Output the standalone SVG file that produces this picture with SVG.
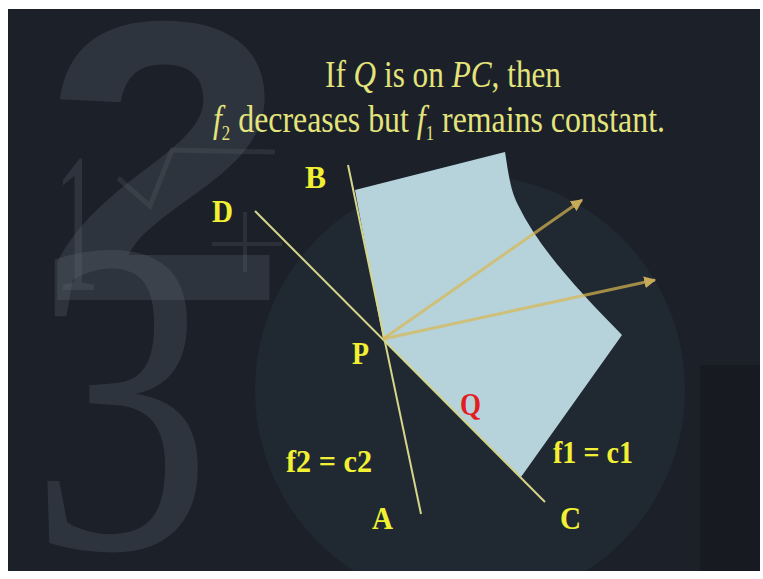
<svg xmlns="http://www.w3.org/2000/svg" width="763" height="579" viewBox="0 0 763 579">
<defs>
<style>
.deco{font-family:"Liberation Serif",serif;fill:#5a646c;fill-opacity:0.3}
.deco-sans{font-family:"Liberation Sans",sans-serif;font-weight:bold;fill:#5a646c;fill-opacity:0.3}
.title{font-family:"Liberation Serif",serif;font-size:38px;fill:#e4e47c}
.it{font-style:italic}
.sub{font-size:20px}
.lbl{font-family:"Liberation Serif",serif;font-weight:bold;font-size:32px;fill:#f2f032}
.q{font-family:"Liberation Serif",serif;font-weight:bold;font-size:32px;fill:#e21e1e}
.ln{stroke:#d6d68a;stroke-width:2;fill:none}
.arr{stroke:#d8b850;stroke-opacity:0.7;stroke-width:3;fill:none;marker-end:url(#ah)}
</style>
<marker id="ah" viewBox="0 0 10 10" refX="9" refY="5" markerWidth="4" markerHeight="4" orient="auto" markerUnits="strokeWidth">
<path d="M0,0 L10,5 L0,10 z" fill="#c8aa58"/>
</marker>
<clipPath id="slide"><rect x="8" y="9" width="752" height="562"/></clipPath>
</defs>
<rect width="763" height="579" fill="#ffffff"/>
<g id="background" clip-path="url(#slide)">
<rect x="8" y="9" width="752" height="562" fill="#1c2029"/>
<circle cx="470" cy="390" r="215" fill="#25343d" fill-opacity="0.45"/>
<rect x="700" y="365" width="70" height="215" fill="#141519" fill-opacity="0.45"/>
<text class="deco-sans" x="42" y="300" font-size="400" textLength="245" lengthAdjust="spacingAndGlyphs">2</text>
<text class="deco" x="30" y="548" font-size="450" textLength="182" lengthAdjust="spacingAndGlyphs">3</text>
<text class="deco" x="55" y="290" font-size="200" textLength="44" lengthAdjust="spacingAndGlyphs">1</text>
<polyline points="118,178 150,206 172,150 275,152" fill="none" stroke="#5a646c" stroke-opacity="0.25" stroke-width="5"/>
<path d="M245,212 V272 M212,244 H282" stroke="#5a646c" stroke-opacity="0.25" stroke-width="4"/>
</g>
<g id="title">
<text class="title" x="325" y="87" textLength="236" lengthAdjust="spacingAndGlyphs">If <tspan class="it">Q</tspan> is on <tspan class="it">PC</tspan>, then</text>
<text class="title" x="213" y="132" textLength="452" lengthAdjust="spacingAndGlyphs"><tspan class="it">f</tspan><tspan class="sub" dy="8">2</tspan><tspan dy="-8"> decreases but </tspan><tspan class="it">f</tspan><tspan class="sub" dy="8">1</tspan><tspan dy="-8"> remains constant.</tspan></text>
</g>
<g id="region">
<path d="M355,190 L505,152 C508,170 510,190 518,205 C540,250 580,292 622,335 L521,477 L383,339 Z" fill="#b6d3dc"/>
</g>
<g id="connectors">
<line id="line-BA" class="ln" x1="348" y1="165" x2="421" y2="514"/>
<line id="line-DC" class="ln" x1="255" y1="211" x2="545" y2="502"/>
<line id="arrow-1" class="arr" x1="383" y1="339" x2="582" y2="200"/>
<line id="arrow-2" class="arr" x1="383" y1="339" x2="655" y2="280"/>
</g>
<g id="label-B"><text class="lbl" x="305" y="188" textLength="21" lengthAdjust="spacingAndGlyphs">B</text></g>
<g id="label-D"><text class="lbl" x="212" y="222" textLength="21" lengthAdjust="spacingAndGlyphs">D</text></g>
<g id="label-P"><text class="lbl" x="352" y="364" textLength="17" lengthAdjust="spacingAndGlyphs">P</text></g>
<g id="label-Q"><text class="q" x="460" y="415" textLength="21" lengthAdjust="spacingAndGlyphs">Q</text></g>
<g id="label-f2"><text class="lbl" x="286" y="472" textLength="86" lengthAdjust="spacingAndGlyphs">f2 = c2</text></g>
<g id="label-f1"><text class="lbl" x="553" y="463" textLength="80" lengthAdjust="spacingAndGlyphs">f1 = c1</text></g>
<g id="label-A"><text class="lbl" x="372" y="529" textLength="21" lengthAdjust="spacingAndGlyphs">A</text></g>
<g id="label-C"><text class="lbl" x="560" y="529" textLength="21" lengthAdjust="spacingAndGlyphs">C</text></g>
</svg>
